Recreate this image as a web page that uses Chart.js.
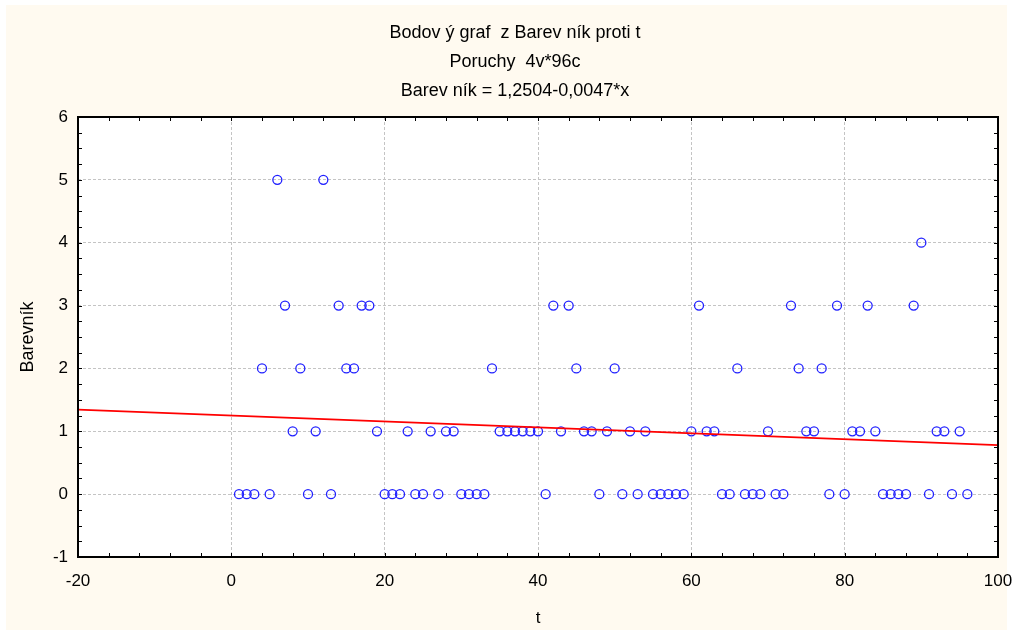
<!DOCTYPE html>
<html>
<head>
<meta charset="utf-8">
<script src="https://cdn.jsdelivr.net/npm/chart.js@4/dist/chart.umd.min.js"></script>
<style>
  html, body { margin: 0; padding: 0; background: #ffffff; }
  #wrap { width: 1013px; height: 635px; }
</style>
</head>
<body>
<div id="wrap"><canvas id="myChart" width="1013" height="635"></canvas></div>
<script>
// t (case number) and Barevník values
const tCases = [
    1, 2, 3, 4, 5, 6, 7, 8, 9, 10, 11, 12, 13, 14, 15, 16,
    17, 18, 19, 20, 21, 22, 23, 24, 25, 26, 27, 28, 29, 30, 31, 32,
    33, 34, 35, 36, 37, 38, 39, 40, 41, 42, 43, 44, 45, 46, 47, 48,
    49, 50, 51, 52, 53, 54, 55, 56, 57, 58, 59, 60, 61, 62, 63, 64,
    65, 66, 67, 68, 69, 70, 71, 72, 73, 74, 75, 76, 77, 78, 79, 80,
    81, 82, 83, 84, 85, 86, 87, 88, 89, 90, 91, 92, 93, 94, 95, 96,
];
const barevnik = [
    0, 0, 0, 2, 0, 5, 3, 1, 2, 0, 1, 5, 0, 3, 2, 2,
    3, 3, 1, 0, 0, 0, 1, 0, 0, 1, 0, 1, 1, 0, 0, 0,
    0, 2, 1, 1, 1, 1, 1, 1, 0, 3, 1, 3, 2, 1, 1, 0,
    1, 2, 0, 1, 0, 1, 0, 0, 0, 0, 0, 1, 3, 1, 1, 0,
    0, 2, 0, 0, 0, 1, 0, 0, 3, 2, 1, 1, 2, 0, 3, 0,
    1, 1, 3, 1, 0, 0, 0, 0, 3, 4, 0, 1, 1, 0, 1, 0,
];
// fitted line from the title: Barevník = 1,2504-0,0047*x
const fitIntercept = 1.2504;
const fitSlope = -0.0047;
const xRange = [-20, 100];
const yRange = [-1, 6];

const titleLines = [
    "Bodov ý graf  z Barev ník proti t",
    "Poruchy  4v*96c",
    "Barev ník = 1,2504-0,0047*x",
];

const points = tCases.map((t, i) => ({ x: t, y: barevnik[i] }));
const fitLine = xRange.map((x) => ({ x: x, y: fitIntercept + fitSlope * x }));

const FONT = "'Liberation Sans', Arial, sans-serif";

const frame = {
    id: "frame",
    beforeDraw(chart) {
        const ctx = chart.ctx;
        const a = chart.chartArea;
        ctx.save();
        ctx.fillStyle = "#ffffff";
        ctx.fillRect(0, 0, chart.width, chart.height);
        ctx.fillStyle = "#fffaf0";
        ctx.fillRect(6, 5, chart.width - 12, chart.height - 10);
        ctx.fillStyle = "#ffffff";
        ctx.fillRect(a.left, a.top, a.right - a.left, a.bottom - a.top);
        ctx.restore();
    },
    afterDraw(chart) {
        const ctx = chart.ctx;
        const a = chart.chartArea;
        const xs = chart.scales.x;
        const ys = chart.scales.y;
        ctx.save();
        // titles, centred like the original
        ctx.fillStyle = "#000000";
        ctx.font = "18px " + FONT;
        ctx.textAlign = "center";
        ctx.textBaseline = "middle";
        titleLines.forEach((line, i) => {
            ctx.fillText(line, 515, 33.5 + i * 29);
        });
        // inward ticks on all four sides
        ctx.strokeStyle = "#000000";
        ctx.lineWidth = 1;
        ctx.beginPath();
        for (let v = xRange[0]; v <= xRange[1]; v += 4) {
            const px = Math.round(xs.getPixelForValue(v)) + 0.5;
            ctx.moveTo(px, a.bottom);
            ctx.lineTo(px, a.bottom - 4);
            ctx.moveTo(px, a.top);
            ctx.lineTo(px, a.top + 4);
        }
        for (let v = yRange[0]; v <= yRange[1] + 1e-9; v += 0.25) {
            const py = Math.round(ys.getPixelForValue(v)) + 0.5;
            ctx.moveTo(a.left, py);
            ctx.lineTo(a.left + 4, py);
            ctx.moveTo(a.right, py);
            ctx.lineTo(a.right - 4, py);
        }
        ctx.stroke();
        ctx.lineWidth = 2;
        ctx.strokeRect(a.left, a.top, a.right - a.left, a.bottom - a.top);
        ctx.restore();
    },
};

const data = {
    datasets: [
        {
            type: "scatter",
            label: "Barevník",
            data: points,
            pointStyle: "circle",
            pointRadius: 4.5,
            pointBorderWidth: 1.3,
            borderColor: "#2020ff",
            backgroundColor: "rgba(0,0,0,0)",
            order: 2,
        },
        {
            type: "line",
            label: "fit",
            data: fitLine,
            borderColor: "#ff0000",
            borderWidth: 1.6,
            pointRadius: 0,
            fill: false,
            order: 1,
        },
    ],
};

const config = {
    type: "scatter",
    data: data,
    options: {
        responsive: false,
        animation: false,
        layout: { padding: { top: 117, right: 15, bottom: 0, left: 0 } },
        plugins: {
            legend: { display: false },
            tooltip: { enabled: false },
            title: { display: false },
        },
        scales: {
            x: {
                type: "linear",
                min: xRange[0],
                max: xRange[1],
                afterFit(scale) {
                    scale.height = 78;
                    scale.paddingLeft = 0;
                    scale.paddingRight = 0;
                },
                ticks: {
                    stepSize: 20,
                    color: "#000000",
                    padding: 14,
                    font: { family: FONT, size: 17 },
                },
                grid: { color: "#c4c4c4", lineWidth: 1, drawTicks: false },
                border: { display: false, dash: [3, 2] },
                title: {
                    display: true,
                    text: "t",
                    color: "#000000",
                    font: { family: FONT, size: 17 },
                    padding: { top: 0, bottom: 6 },
                },
            },
            y: {
                type: "linear",
                min: yRange[0],
                max: yRange[1],
                afterFit(scale) {
                    scale.width = 78;
                    scale.paddingTop = 0;
                    scale.paddingBottom = 0;
                },
                ticks: {
                    stepSize: 1,
                    color: "#000000",
                    padding: 10,
                    font: { family: FONT, size: 17 },
                },
                grid: { color: "#c4c4c4", lineWidth: 1, drawTicks: false },
                border: { display: false, dash: [3, 2] },
                title: {
                    display: true,
                    text: "Barevník",
                    color: "#000000",
                    font: { family: FONT, size: 18 },
                    padding: { top: 17, bottom: 0 },
                },
            },
        },
    },
    plugins: [frame],
};

const myChart = new Chart(document.getElementById("myChart"), config);
</script>
</body>
</html>
